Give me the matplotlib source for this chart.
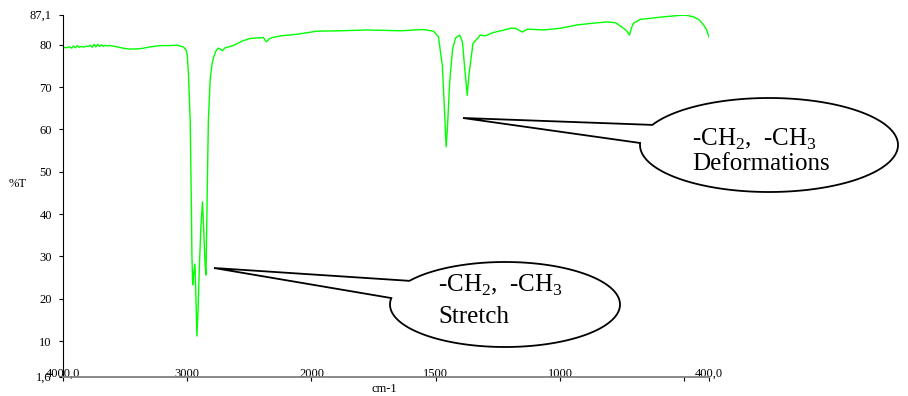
import numpy as np
import matplotlib
matplotlib.use('Agg')
import matplotlib.pyplot as plt
from matplotlib.patches import Polygon

plt.rcParams['font.family'] = 'Liberation Serif'
plt.rcParams['mathtext.fontset'] = 'custom'
plt.rcParams['mathtext.rm'] = 'Liberation Serif'

# IR spectrum (wavenumber in cm-1, %T)
wavenumber = [4000, 3975, 3950, 3930, 3915, 3900, 3885, 3870, 3855, 3840, 3825, 3810,
              3795, 3780, 3765, 3750, 3735, 3720, 3705, 3690, 3675, 3660, 3645, 3630,
              3600, 3560, 3520, 3470, 3403, 3350, 3298, 3218, 3150, 3081, 3032, 3010,
              3000, 2990, 2976, 2968, 2962, 2956, 2950, 2938, 2930, 2922, 2912, 2903,
              2890, 2877, 2870, 2863, 2856, 2849, 2839, 2830, 2815, 2800, 2790, 2770,
              2750, 2735, 2718, 2694, 2629, 2556, 2492, 2387, 2363, 2340, 2315, 2250,
              2113, 2000, 1984, 1883, 1775, 1642, 1549, 1509, 1489, 1473, 1465, 1458,
              1453, 1444, 1432, 1420, 1403, 1392, 1384, 1373, 1366, 1350, 1320, 1300,
              1268, 1230, 1199, 1179, 1151, 1130, 1066, 998, 929, 865, 808, 776, 744,
              730, 720, 712, 704, 676, 583, 503, 487, 462, 440, 422, 410, 400]
transmittance = [79.4, 79.3, 79.5, 79.2, 79.7, 79.3, 79.8, 79.4, 79.6, 79.5, 79.5, 79.7,
                 79.6, 79.9, 79.4, 80.1, 79.5, 80.1, 79.6, 80.0, 79.6, 79.9, 79.7, 79.8,
                 79.7, 79.5, 79.2, 79.0, 79.0, 79.2, 79.5, 79.8, 79.8, 79.9, 79.5, 78.8,
                 77.6, 73.0, 62.0, 45.0, 30.0, 23.3, 25.5, 28.2, 20.0, 11.2, 18.0, 27.0,
                 37.0, 42.9, 38.0, 33.0, 28.0, 25.6, 45.0, 62.0, 72.0, 75.5, 76.8, 78.5,
                 79.2, 79.0, 78.6, 79.3, 79.8, 80.9, 81.5, 81.7, 80.7, 81.4, 81.7, 82.1,
                 82.5, 83.0, 83.2, 83.3, 83.5, 83.3, 83.6, 83.2, 81.9, 75.0, 65.0, 55.9,
                 60.0, 71.0, 79.0, 81.6, 82.3, 80.5, 75.0, 68.1, 73.0, 80.3, 82.3, 82.1,
                 82.9, 83.4, 83.9, 83.9, 83.0, 83.7, 83.5, 83.9, 84.7, 85.1, 85.4, 85.2, 83.9,
                 83.2, 82.3, 84.0, 85.1, 86.0, 86.6, 87.0, 86.9, 86.6, 85.9, 84.7, 83.6, 81.8]

x_ticks = [4000, 3000, 2000, 1500, 1000, 500, 400]
x_tick_labels = ['4000,0', '3000', '2000', '1500', '1000', '', '400,0']
y_ticks = [1.6, 10, 20, 30, 40, 50, 60, 70, 80, 87.1]
y_tick_labels = ['1,6', '10', '20', '30', '40', '50', '60', '70', '80', '87,1']


# the scale is stretched x2 below 2000 cm-1
def fwd(x):
    x = np.asarray(x, dtype=float)
    return np.where(x >= 2000, x, 2 * x - 2000)


def inv(y):
    y = np.asarray(y, dtype=float)
    return np.where(y >= 2000, y, (y + 2000) / 2)


fig = plt.figure(figsize=(9.08, 3.96), dpi=100)
ax = fig.add_axes([63 / 908, 19.3 / 396, 646 / 908, 362 / 396])
ax.plot(wavenumber, transmittance, color='#00ff00', lw=1)
ax.set_xscale('function', functions=(fwd, inv))
ax.set_xlim(4000, 400)
ax.set_ylim(1.6, 87.1)

ax.set_xticks(x_ticks)
ax.set_xticklabels(x_tick_labels)
ax.set_yticks(y_ticks)
ax.set_yticklabels(y_tick_labels)
ax.tick_params(axis='x', direction='out', length=3, width=0.8, pad=-9.5, labelsize=9)
ax.tick_params(axis='y', direction='out', length=3, width=0.8, pad=5, labelsize=9)

ax.spines['top'].set_visible(False)
ax.spines['right'].set_visible(False)
ax.spines['bottom'].set_color('#808080')
ax.spines['bottom'].set_linewidth(1.3)
ax.spines['left'].set_linewidth(0.8)

fig.text(18 / 908, 1 - 184 / 396, '%T', fontsize=9, ha='center', va='center')
fig.text(384 / 908, 1 - 389 / 396, 'cm-1', fontsize=9, ha='center', va='center')

# overlay in pixel coordinates for the callouts
ov = fig.add_axes([0, 0, 1, 1], zorder=5)
ov.set_xlim(0, 908)
ov.set_ylim(396, 0)
ov.axis('off')


def callout(cx, cy, a, b, tip, p_up, p_low):
    t1 = np.arctan2((p_up[1] - cy) / b, (p_up[0] - cx) / a)
    t2 = np.arctan2((p_low[1] - cy) / b, (p_low[0] - cx) / a)
    if t2 < t1:
        t2 += 2 * np.pi
    t = np.linspace(t1, t2, 300)
    pts = [tip] + list(zip(cx + a * np.cos(t), cy + b * np.sin(t))) + [tip]
    ov.add_patch(Polygon(pts, closed=True, fc='white', ec='black', lw=1.3))


callout(505, 304.5, 115, 42.5, (214, 268), (402, 279), (390, 298))
callout(769, 145, 129, 47, (463, 118), (653, 125), (640, 143))

ov.text(438, 291.7, r'-CH$_\mathrm{2}$,  -CH$_\mathrm{3}$', fontsize=18, va='baseline')
ov.text(438, 323.3, 'Stretch', fontsize=18, va='baseline')
ov.text(692, 146, r'-CH$_\mathrm{2}$,  -CH$_\mathrm{3}$', fontsize=18, va='baseline')
ov.text(692, 170, 'Deformations', fontsize=18, va='baseline')

fig.savefig('out.png', dpi=100)
